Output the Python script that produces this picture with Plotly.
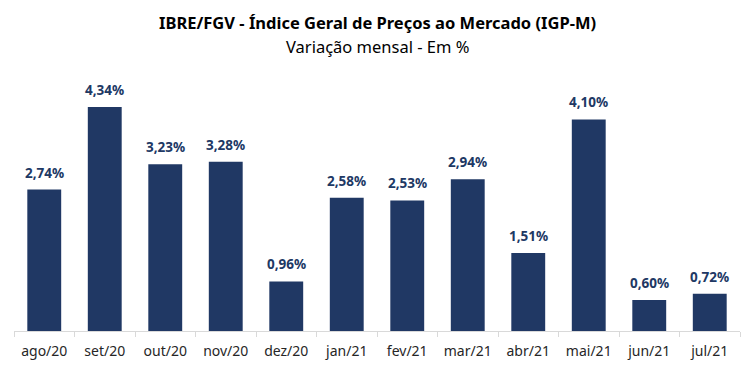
import plotly.graph_objects as go

months = ["ago/20", "set/20", "out/20", "nov/20", "dez/20", "jan/21",
          "fev/21", "mar/21", "abr/21", "mai/21", "jun/21", "jul/21"]
values = [2.74, 4.34, 3.23, 3.28, 0.96, 2.58, 2.53, 2.94, 1.51, 4.10, 0.60, 0.72]
labels = [f"{v:.2f}%".replace(".", ",") for v in values]

title = "IBRE/FGV - Índice Geral de Preços ao Mercado (IGP-M)"
subtitle = "Variação mensal - Em %"

FONT = "Noto Sans, Open Sans, sans-serif"
BAR = "#203864"

# page has an 8px body offset; margins compensate
L, R, T, B = 6, 22, 65, 47
W, H = 754, 370

fig = go.Figure(go.Bar(
    x=months, y=values,
    marker=dict(color=BAR, line=dict(width=0)),
    hoverinfo="x+y",
))

anns = []
for m, v, lab in zip(months, values, labels):
    anns.append(dict(x=m, y=v, xref="x", yref="y", text=f"<b>{lab}</b>",
                     showarrow=False, yanchor="middle", yshift=17,
                     font=dict(family=FONT, size=13.5, color=BAR)))

plot_h = H - T - B
anns.append(dict(text=f"<b>{title}</b>", x=0.5, y=1 + (T - 14) / plot_h,
                 xref="paper", yref="paper", yanchor="middle", showarrow=False,
                 font=dict(family=FONT, size=16.5, color="#000000")))
anns.append(dict(text=subtitle, x=0.5, y=1 + (T - 38) / plot_h,
                 xref="paper", yref="paper", yanchor="middle", showarrow=False,
                 font=dict(family=FONT, size=16.5, color="#000000")))

fig.update_layout(
    width=W, height=H,
    margin=dict(l=L, r=R, t=T, b=B, autoexpand=False),
    paper_bgcolor="white", plot_bgcolor="white",
    bargap=0.44, showlegend=False,
    xaxis=dict(showline=True, linecolor="#d9d9d9", linewidth=1,
               ticks="outside", tickson="boundaries", ticklen=5,
               tickcolor="#d9d9d9", showgrid=False, ticklabelstandoff=7,
               tickfont=dict(family=FONT, size=14, color="#262626")),
    yaxis=dict(range=[0, 5], visible=False, showgrid=False),
    annotations=anns,
)

fig.write_html("out.html")
